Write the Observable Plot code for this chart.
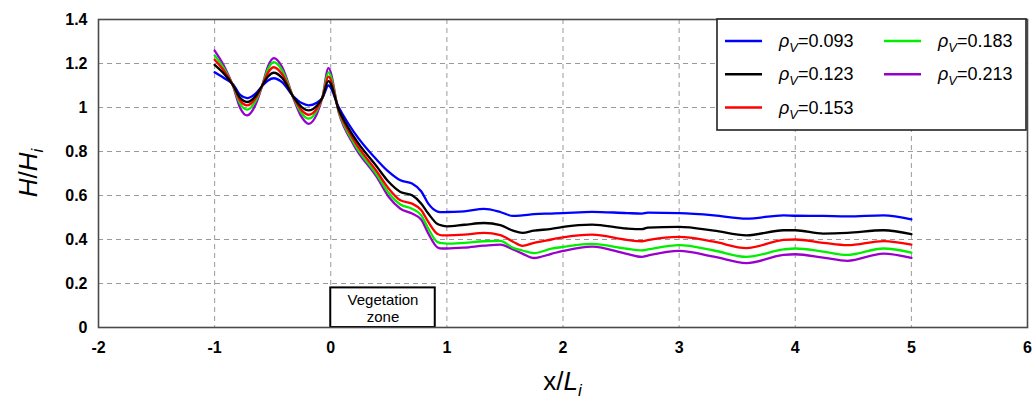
<!DOCTYPE html>
<html>
<head>
<meta charset="utf-8">
<script src="https://cdn.jsdelivr.net/npm/d3@7"></script>
<script src="https://cdn.jsdelivr.net/npm/@observablehq/plot@0.6"></script>
<style>
  html, body { margin: 0; padding: 0; background: #fff; }
  #chart svg { font-family: "Liberation Sans", Arial, sans-serif; }
</style>
</head>
<body>
<div id="chart"></div>
<script>
// ---- data ----
const xTicks = [-2, -1, 0, 1, 2, 3, 4, 5, 6];
const yTicks = [0, 0.2, 0.4, 0.6, 0.8, 1.0, 1.2, 1.4];

const xPos = [-1.0, -0.92, -0.84, -0.78, -0.72, -0.65, -0.59, -0.54, -0.49, -0.42, -0.32, -0.25, -0.19, -0.12, -0.07, -0.02,
  0.07, 0.2, 0.4, 0.5, 0.6, 0.7, 0.78, 0.84, 0.92, 0.96, 1.0, 1.15, 1.32, 1.46, 1.57, 1.65, 1.75, 1.9, 2.0, 2.25, 2.55, 2.68, 2.73,
  3.0, 3.3, 3.58, 3.9, 4.0, 4.24, 4.45, 4.76, 5.0];

const rho093 = [1.160, 1.134, 1.105, 1.057, 1.043, 1.062, 1.098, 1.123, 1.133, 1.115, 1.050, 1.020, 1.010, 1.022, 1.045, 1.100,
  1.000, 0.888, 0.760, 0.707, 0.669, 0.655, 0.618, 0.563, 0.527, 0.524, 0.525, 0.528, 0.539, 0.525, 0.507, 0.510, 0.515, 0.518, 0.520, 0.526, 0.520, 0.518, 0.522,
  0.520, 0.510, 0.495, 0.510, 0.508, 0.507, 0.505, 0.510, 0.492];
const rho123 = [1.194, 1.154, 1.100, 1.044, 1.025, 1.050, 1.100, 1.141, 1.158, 1.135, 1.047, 1.002, 0.987, 1.008, 1.047, 1.120,
  0.990, 0.866, 0.729, 0.661, 0.616, 0.601, 0.563, 0.518, 0.470, 0.463, 0.460, 0.467, 0.475, 0.465, 0.440, 0.430, 0.440, 0.448, 0.457, 0.468, 0.450, 0.447, 0.454,
  0.457, 0.440, 0.419, 0.442, 0.442, 0.427, 0.430, 0.442, 0.424];
const rho153 = [1.217, 1.167, 1.100, 1.032, 1.010, 1.040, 1.100, 1.159, 1.183, 1.152, 1.045, 0.987, 0.967, 0.995, 1.048, 1.140,
  0.985, 0.851, 0.707, 0.631, 0.578, 0.563, 0.533, 0.480, 0.425, 0.419, 0.419, 0.422, 0.430, 0.420, 0.390, 0.371, 0.385, 0.400, 0.410, 0.422, 0.398, 0.392, 0.397,
  0.412, 0.390, 0.361, 0.398, 0.400, 0.385, 0.374, 0.393, 0.377];
const rho183 = [1.237, 1.178, 1.098, 1.017, 0.990, 1.027, 1.100, 1.175, 1.206, 1.170, 1.043, 0.973, 0.949, 0.985, 1.050, 1.160,
  0.980, 0.838, 0.692, 0.611, 0.559, 0.540, 0.510, 0.450, 0.388, 0.383, 0.381, 0.385, 0.392, 0.394, 0.362, 0.350, 0.338, 0.358, 0.366, 0.380, 0.358, 0.351, 0.355,
  0.374, 0.350, 0.321, 0.355, 0.359, 0.345, 0.330, 0.359, 0.340];
const rho213 = [1.259, 1.190, 1.095, 0.998, 0.964, 1.010, 1.100, 1.188, 1.224, 1.185, 1.040, 0.956, 0.926, 0.970, 1.050, 1.179,
  0.975, 0.828, 0.681, 0.593, 0.540, 0.518, 0.490, 0.427, 0.364, 0.359, 0.359, 0.363, 0.372, 0.377, 0.355, 0.336, 0.316, 0.335, 0.348, 0.368, 0.335, 0.321, 0.327,
  0.348, 0.322, 0.293, 0.330, 0.333, 0.318, 0.303, 0.336, 0.316];

const seriesLabels = ["0.093", "0.123", "0.153", "0.183", "0.213"];
const seriesValues = [rho093, rho123, rho153, rho183, rho213];

// vegetation zone annotation (data units)
const vegX = [0, 0.9];
const vegY = [0, 0.18];
const vegText = ["Vegetation", "zone"];

// ---- styles ----
const seriesColors = ["#0000ff", "#000000", "#ff0000", "#00ee00", "#9900cc"];
const drawOrder = [0, 4, 3, 2, 1];

const W = 1032, H = 402;
const mL = 98, mR = 5, mT = 19, mB = 75;

const rows = [];
for (const k of drawOrder) {
  xPos.forEach((x, i) => rows.push({x, y: seriesValues[k][i], s: seriesLabels[k]}));
}

const plot = Plot.plot({
  width: W, height: H,
  marginLeft: mL, marginRight: mR, marginTop: mT, marginBottom: mB,
  style: {fontFamily: "'Liberation Sans', Arial, sans-serif", background: "white", color: "black"},
  x: {domain: [-2, 6], label: null},
  y: {domain: [0, 1.4], label: null},
  color: {domain: seriesLabels, range: seriesColors},
  marks: [
    Plot.gridX(xTicks, {stroke: "#9a9a9a", strokeOpacity: 1, strokeDasharray: "5,4", strokeWidth: 1}),
    Plot.gridY(yTicks, {stroke: "#9a9a9a", strokeOpacity: 1, strokeDasharray: "5,4", strokeWidth: 1}),
    Plot.rect([0], {x1: () => vegX[0], x2: () => vegX[1], y1: () => vegY[0], y2: () => vegY[1],
      fill: "white", stroke: "black", strokeWidth: 2}),
    Plot.text([0], {x: () => (vegX[0] + vegX[1]) / 2, y: () => vegY[1] / 2, text: () => vegText.join("\n"),
      fontSize: 15, lineHeight: 1.15, fill: "black"}),
    Plot.line(rows, {x: "x", y: "y", z: "s", stroke: "s", strokeWidth: 2.3, curve: "monotone-x"}),
    Plot.frame({stroke: "#4a4a4a", strokeWidth: 1.6}),
    Plot.axisX(xTicks, {tickSize: 0, tickPadding: 14, fontSize: 16, fontWeight: "bold", tickFormat: d => String(d)}),
    Plot.axisY(yTicks, {tickSize: 0, tickPadding: 11, fontSize: 16, fontWeight: "bold",
      tickFormat: d => String(+d.toFixed(1))})
  ]
});
document.getElementById("chart").appendChild(plot);

// ---- axis titles with sub-scripts ----
const svg = d3.select(plot);
const fam = "'Liberation Sans', Arial, sans-serif";
const xl = svg.append("text")
  .attr("x", (mL + W - mR) / 2).attr("y", 390)
  .attr("text-anchor", "middle").attr("font-size", 26).attr("font-family", fam).attr("fill", "black");
xl.append("tspan").text("x/");
xl.append("tspan").attr("font-style", "italic").text("L");
xl.append("tspan").attr("font-style", "italic").attr("font-size", 17).attr("dy", 6).text("i");

const yl = svg.append("text")
  .attr("transform", `translate(37,${(mT + H - mB) / 2}) rotate(-90)`)
  .attr("text-anchor", "middle").attr("font-size", 26).attr("font-family", fam).attr("fill", "black");
yl.append("tspan").attr("font-style", "italic").text("H");
yl.append("tspan").text("/");
yl.append("tspan").attr("font-style", "italic").text("H");
yl.append("tspan").attr("font-style", "italic").attr("font-size", 17).attr("dy", 6).text("i");

// ---- legend (inside frame, top-right) ----
const lgW = 309, lgH = 111;
const lgX = W - mR - 1 - lgW, lgY = mT;
const lg = svg.append("g");
lg.append("rect").attr("x", lgX).attr("y", lgY).attr("width", lgW).attr("height", lgH)
  .attr("fill", "white").attr("stroke", "#222").attr("stroke-width", 1.6);
seriesLabels.forEach((lab, i) => {
  const col = i < 3 ? 0 : 1;
  const row = i < 3 ? i : i - 3;
  const cx = lgX + 8 + col * 159;
  const cy = lgY + 22 + row * 33.3;
  lg.append("line").attr("x1", cx).attr("x2", cx + 37).attr("y1", cy).attr("y2", cy)
    .attr("stroke", seriesColors[i]).attr("stroke-width", 2.5);
  const t = lg.append("text").attr("x", cx + 54).attr("y", cy + 6)
    .attr("text-anchor", "start")
    .attr("font-size", 18).attr("font-family", fam).attr("fill", "black");
  t.append("tspan").attr("font-style", "italic").text("ρ");
  t.append("tspan").attr("font-style", "italic").attr("font-size", 13).attr("dy", 5).text("V");
  t.append("tspan").attr("dy", -5).text("=" + lab);
});
</script>
</body>
</html>
